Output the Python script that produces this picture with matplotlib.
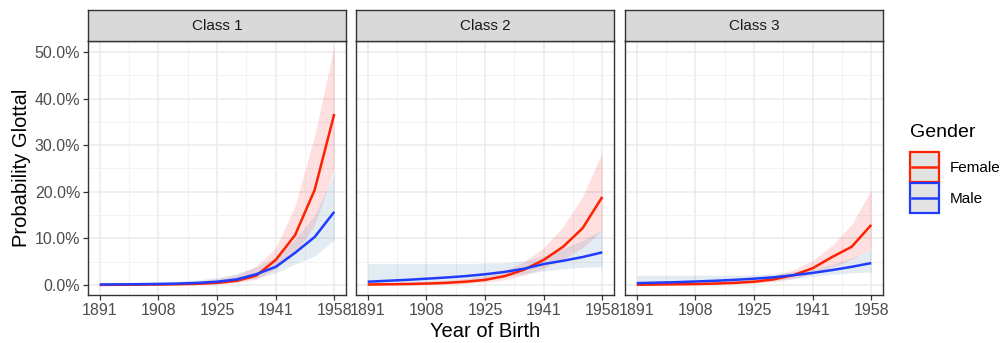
import matplotlib
matplotlib.use("Agg")
import matplotlib.pyplot as plt
from matplotlib.patches import Rectangle
from matplotlib.lines import Line2D
from matplotlib.legend_handler import HandlerBase
from matplotlib.ticker import FuncFormatter, FixedLocator

years = [1891, 1896.6, 1902.2, 1907.8, 1913.3, 1918.9, 1924.5, 1930.1, 1935.7, 1941.3, 1946.8, 1952.4, 1958]
tick_pos = [1891, 1907.75, 1924.5, 1941.25, 1958]
tick_labels = ["1891", "1908", "1925", "1941", "1958"]
classes = ["Class 1", "Class 2", "Class 3"]

# values in percent
female = {
    "Class 1": [0.02, 0.04, 0.07, 0.1, 0.15, 0.25, 0.45, 0.9, 2.0, 5.4, 10.7, 20.4, 36.7],
    "Class 2": [0.1, 0.15, 0.2, 0.3, 0.45, 0.7, 1.1, 1.9, 3.3, 5.4, 8.2, 12.2, 18.9],
    "Class 3": [0.05, 0.1, 0.15, 0.2, 0.3, 0.45, 0.7, 1.2, 2.1, 3.6, 6.0, 8.2, 12.9],
}
female_lo = {
    "Class 1": [0, 0, 0, 0, 0.05, 0.1, 0.2, 0.5, 1.2, 3.5, 6.8, 12.8, 25.0],
    "Class 2": [0, 0, 0, 0.1, 0.2, 0.3, 0.6, 1.1, 2.1, 3.6, 5.5, 8.0, 11.8],
    "Class 3": [0, 0, 0, 0, 0.1, 0.2, 0.4, 0.7, 1.3, 2.4, 3.8, 5.5, 7.9],
}
female_hi = {
    "Class 1": [0.15, 0.2, 0.3, 0.4, 0.55, 0.8, 1.3, 2.2, 4.0, 8.0, 17.0, 32.0, 51.5],
    "Class 2": [0.4, 0.5, 0.6, 0.8, 1.0, 1.4, 2.0, 3.1, 5.0, 8.0, 12.5, 19.0, 28.5],
    "Class 3": [0.3, 0.35, 0.4, 0.5, 0.7, 0.9, 1.3, 2.0, 3.2, 5.3, 8.5, 13.0, 20.4],
}
male = {
    "Class 1": [0.1, 0.13, 0.17, 0.22, 0.3, 0.45, 0.7, 1.2, 2.3, 3.9, 6.9, 10.3, 15.7],
    "Class 2": [0.7, 0.9, 1.1, 1.35, 1.6, 1.9, 2.3, 2.8, 3.5, 4.5, 5.2, 6.0, 7.0],
    "Class 3": [0.4, 0.5, 0.6, 0.75, 0.9, 1.1, 1.35, 1.65, 2.1, 2.6, 3.2, 3.9, 4.7],
}
male_lo = {
    "Class 1": [0, 0, 0.02, 0.05, 0.1, 0.2, 0.35, 0.7, 1.4, 2.6, 4.5, 6.2, 9.7],
    "Class 2": [0, 0.1, 0.2, 0.4, 0.6, 0.9, 1.3, 1.8, 2.4, 3.0, 3.5, 3.8, 3.9],
    "Class 3": [0, 0.05, 0.1, 0.2, 0.35, 0.5, 0.75, 1.0, 1.4, 1.9, 2.3, 2.6, 2.8],
}
male_hi = {
    "Class 1": [0.5, 0.55, 0.6, 0.7, 0.85, 1.1, 1.6, 2.4, 3.9, 6.0, 9.8, 15.0, 24.0],
    "Class 2": [4.6, 4.6, 4.6, 4.6, 4.6, 4.6, 4.7, 4.8, 5.2, 6.2, 7.8, 9.6, 11.8],
    "Class 3": [2.1, 2.1, 2.1, 2.1, 2.1, 2.1, 2.2, 2.4, 2.8, 3.4, 4.4, 5.8, 7.7],
}

RED = "#ff2200"
BLUE = "#1f3cff"
RED_FILL = (1.0, 0.0, 0.0, 0.12)
BLUE_FILL = (0.27, 0.51, 0.71, 0.15)

W, H = 1006, 343
fig = plt.figure(figsize=(W / 100, H / 100), dpi=100)
plt.rcParams["font.family"] = ["Liberation Sans", "DejaVu Sans"]

lefts = [88, 356, 625]
pw = 258
top, bottom = 41, 295
strip_top = 10

for i, (cls, lx) in enumerate(zip(classes, lefts)):
    ax = fig.add_axes([lx / W, 1 - bottom / H, pw / W, (bottom - top) / H])
    y = lambda v: [x / 100 for x in v]
    ax.fill_between(years, y(female_lo[cls]), y(female_hi[cls]), color=RED_FILL, lw=0, zorder=2)
    ax.fill_between(years, y(male_lo[cls]), y(male_hi[cls]), color=BLUE_FILL, lw=0, zorder=2)
    ax.plot(years, y(female[cls]), color=RED, lw=1.8, zorder=3, solid_capstyle="butt")
    ax.plot(years, y(male[cls]), color=BLUE, lw=1.8, zorder=3, solid_capstyle="butt")
    ax.set_xlim(1887.65, 1961.35)
    ax.set_ylim(-0.0215, 0.5236)
    ax.xaxis.set_major_locator(FixedLocator(tick_pos))
    ax.set_xticklabels(tick_labels)
    mids = [(a + b) / 2 for a, b in zip(tick_pos[:-1], tick_pos[1:])]
    ax.xaxis.set_minor_locator(FixedLocator(mids))
    ax.yaxis.set_major_locator(FixedLocator([0, 0.1, 0.2, 0.3, 0.4, 0.5]))
    ax.yaxis.set_minor_locator(FixedLocator([0.05, 0.15, 0.25, 0.35, 0.45]))
    ax.yaxis.set_major_formatter(FuncFormatter(lambda v, p: f"{v*100:.1f}%"))
    ax.grid(which="major", color="#ebebeb", lw=1.1, zorder=0)
    ax.grid(which="minor", color="#f2f2f2", lw=0.7, zorder=0)
    ax.set_axisbelow(True)
    for s in ax.spines.values():
        s.set_color("#333333")
        s.set_linewidth(1.0)
    ax.tick_params(which="major", length=3.5, width=0.9, color="#333333",
                   labelsize=11.5, labelcolor="#4d4d4d", pad=2)
    ax.tick_params(which="minor", length=0)
    if i > 0:
        ax.tick_params(axis="y", which="major", length=0, labelleft=False)
    else:
        ax.set_ylabel("Probability Glottal", fontsize=14.5, color="black", labelpad=3)
    if i == 1:
        ax.set_xlabel("Year of Birth", fontsize=14.5, color="black", labelpad=3)
    # strip
    sax = fig.add_axes([lx / W, 1 - top / H, pw / W, (top - strip_top) / H])
    sax.set_facecolor("#d9d9d9")
    sax.set_xticks([]); sax.set_yticks([])
    for s in sax.spines.values():
        s.set_color("#333333")
        s.set_linewidth(1.0)
    sax.text(0.5, 0.5, cls, ha="center", va="center", fontsize=11, color="#1a1a1a",
             transform=sax.transAxes)


class KeyHandler(HandlerBase):
    def create_artists(self, legend, orig_handle, xdescent, ydescent, width, height,
                       fontsize, trans):
        c = orig_handle.get_color()
        rect = Rectangle((-xdescent, -ydescent), width, height, facecolor="#e3e3e3",
                         edgecolor=c, lw=1.6, transform=trans)
        cy = -ydescent + height / 2
        ln = Line2D([-xdescent + 0.08 * width, -xdescent + 0.92 * width], [cy, cy],
                    color=c, lw=1.8, transform=trans)
        return [rect, ln]


handles = [Line2D([], [], color=RED), Line2D([], [], color=BLUE)]
leg = fig.legend(handles, ["Female", "Male"], title="Gender", loc="upper left",
                 bbox_to_anchor=(910 / W, 1 - 124 / H), frameon=False,
                 fontsize=11, title_fontsize=14, handlelength=1.9, handleheight=2.6,
                 handletextpad=0.7, labelspacing=0.1, borderaxespad=0, borderpad=0,
                 handler_map={Line2D: KeyHandler()})
leg._legend_box.align = "left"
leg._legend_box.sep = 8

fig.savefig("out.png", dpi=100)
